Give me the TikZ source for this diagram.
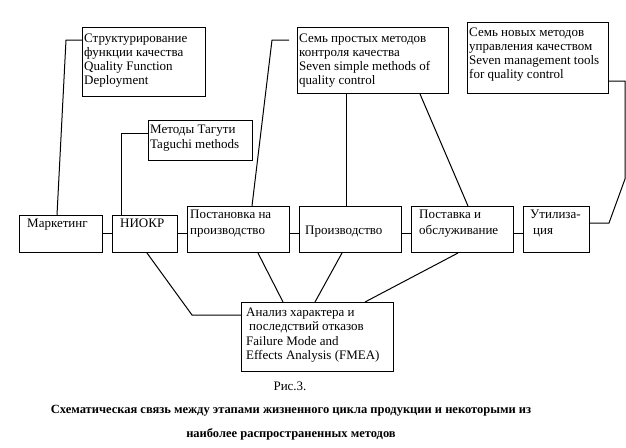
\documentclass[tikz,border=0pt]{standalone}
\usepackage{fontspec}
\setmainfont{Liberation Serif}
\usetikzlibrary{calc}
\begin{document}
\begin{tikzpicture}[x=1pt,y=-1pt,
  box/.style 2 args={draw, line width=1pt, anchor=north west, inner sep=0pt, minimum width=#1pt, minimum height=#2pt},
  ln/.style={line width=1pt},
  tx/.style={anchor=base west, inner sep=0pt, font=\fontsize{13}{14}\selectfont},
  figlbl/.style={anchor=base, inner sep=0pt, font=\fontsize{13}{14}\selectfont},
  capb/.style={anchor=base, inner sep=0pt, font=\fontsize{12.5}{14}\selectfont\bfseries}]
\fill[white] (0,0) rectangle (626,447);
\useasboundingbox (0,0) rectangle (626,447);
% boxes
\node[box={123}{69}] (qfd) at (82,27) {};
\node[box={104}{40}] (tag) at (148,120) {};
\node[box={151}{66}] (ssm) at (297,27) {};
\node[box={141}{71}] (snm) at (467,22) {};
\node[box={83}{37}] (mkt) at (19,215) {};
\node[box={65}{37}] (rd) at (112,215) {};
\node[box={102}{46}] (prep) at (187,206) {};
\node[box={102}{46}] (prod) at (299,206) {};
\node[box={102}{46}] (sup) at (411,206) {};
\node[box={66}{46}] (util) at (523,206) {};
\node[box={152}{69}] (fmea) at (241,302) {};
% texts
\node[tx] (qfd1) at (84,42) {Структурирование};
\node[tx] (qfd2) at (84,56.2) {функции качества};
\node[tx] (qfd3) at (84,70.4) {Quality Function};
\node[tx] (qfd4) at (84,84.6) {Deployment};
\node[tx] (tag1) at (150,133.5) {Методы Тагути};
\node[tx] (tag2) at (150,148) {Taguchi methods};
\node[tx] (ssm1) at (299,42) {Семь простых методов};
\node[tx] (ssm2) at (299,56.2) {контроля качества};
\node[tx] (ssm3) at (299,70.4) {Seven simple methods of};
\node[tx] (ssm4) at (299,84.6) {quality control};
\node[tx] (snm1) at (469,36) {Семь новых методов};
\node[tx] (snm2) at (469,50.2) {управления качеством};
\node[tx] (snm3) at (469,64.4) {Seven management tools};
\node[tx] (snm4) at (469,78.6) {for quality control};
\node[tx] (mkt1) at (27,227) {Маркетинг};
\node[tx] (rd1) at (120,227) {НИОКР};
\node[tx] (prep1) at (190,218) {Постановка на};
\node[tx] (prep2) at (190,234) {производство};
\node[tx] (prod1) at (305,234) {Производство};
\node[tx] (sup1) at (419,218) {Поставка и};
\node[tx] (sup2) at (419,234) {обслуживание};
\node[tx] (util1) at (530,218) {Утилиза-};
\node[tx] (util2) at (533,234) {ция};
\node[tx] (fm1) at (246,316) {Анализ характера и};
\node[tx] (fm2) at (249,330.5) {последствий отказов};
\node[tx] (fm3) at (246,345) {Failure Mode and};
\node[tx] (fm4) at (246,359.5) {Effects Analysis (FMEA)};
\node[figlbl] (fig) at (290,390) {Рис.3.};
\node[capb] (c1) at (291,413) {Схематическая связь между этапами жизненного цикла продукции и некоторыми из};
\node[capb] (c2) at (291,437) {наиболее распространенных методов};
% connectors
\draw[ln] ($(qfd.north west)+(0,13)$) -- ++(-16,0) -- ($(mkt.north west)+(38,0)$);
\draw[ln] ($(tag.north west)+(0,13)$) -- ++(-27,0) -- ($(rd.north west)+(9,0)$);
\draw[ln] ($(ssm.north west)+(-8,13)$) -- ++(-17,0) -- ($(prep.north west)+(65,0)$);
\draw[ln] ($(ssm.south west)+(49,0)$) -- ($(prod.north west)+(47,0)$);
\draw[ln] ($(ssm.south west)+(123,0)$) -- ($(sup.north west)+(57,0)$);
\draw[ln] ($(snm.south east)+(0,-13)$) -- ++(16,0) -- ++(0,98) -- ($(util.north east)+(19,17)$) -- ($(util.north east)+(0,17)$);
\draw[ln] ($(rd.south west)+(35,0)$) -- ($(fmea.north west)+(-49,13)$) -- ($(fmea.north west)+(0,13)$);
\draw[ln] ($(prep.south west)+(71,0)$) -- ($(fmea.north west)+(42,0)$);
\draw[ln] ($(prod.south west)+(43,0)$) -- ($(fmea.north west)+(74,0)$);
\draw[ln] ($(sup.south west)+(47,0)$) -- ($(fmea.north west)+(124,0)$);
\draw[ln] ($(mkt.north east)+(0,18)$) -- ($(rd.north west)+(0,18)$);
\draw[ln] ($(rd.north east)+(0,18)$) -- ($(prep.north west)+(0,27)$);
\draw[ln] ($(prep.north east)+(0,27)$) -- ($(prod.north west)+(0,27)$);
\draw[ln] ($(prod.north east)+(0,27)$) -- ($(sup.north west)+(0,27)$);
\draw[ln] ($(sup.north east)+(0,27)$) -- ($(util.north west)+(0,27)$);
\end{tikzpicture}
\end{document}
